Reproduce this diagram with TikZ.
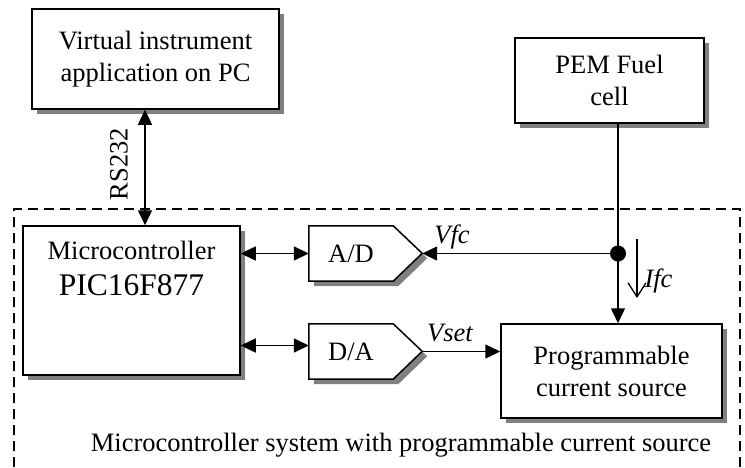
\documentclass[tikz,border=0pt]{standalone}
\usepackage{fontspec}
\setmainfont{Liberation Serif}
\usetikzlibrary{arrows.meta,positioning,shadows,backgrounds}
\newcommand\diagfont{\fontsize{26.5}{32}\selectfont}
\tikzset{
  box/.style={draw, line width=1.5pt, fill=white, align=center, font=\diagfont,
    drop shadow={shadow xshift=5pt, shadow yshift=-5pt, fill=gray, opacity=1}},
  conv/.style={minimum width=84, minimum height=55, inner sep=0pt, font=\diagfont},
  link/.style={line width=1.5pt, -{Triangle[length=15pt,width=14pt]}},
  duplex/.style={line width=1.5pt, {Triangle[length=15pt,width=14pt]}-{Triangle[length=15pt,width=14pt]}},
  lbl/.style={font=\diagfont\itshape}
}

\begin{document}
\begin{tikzpicture}[x=1pt,y=-1pt]
  \useasboundingbox (0,0) rectangle (745,467);

  % outer system frame, open at the bottom
  \draw[line width=1.5pt, dash pattern=on 10pt off 6pt] (14,467) -- (14,209) -- (740,209) -- (740,467);

  \node[box, minimum width=247, minimum height=100] (vi) at (155.5,59) {Virtual instrument\\application on PC};
  \node[box, minimum width=189, minimum height=85] (pem) at (609.5,80.5) {PEM Fuel\\cell};
  \node[box, minimum width=217, minimum height=149] (mcu) at (131.5,300.5) {};
  \node[font=\diagfont, align=center, anchor=north, inner sep=0pt] (mcutxt) at ([yshift=-16pt]mcu.north)
    {Microcontroller\\[4pt]{\fontsize{31.5}{34}\selectfont PIC16F877}};
  \node[box, minimum width=221, minimum height=94] (pcs) at (611.5,371) {Programmable\\current source};

  \node[conv] (ad) at (351,253.5) {A/D};
  \node[conv] (da) at (351,351.5) {D/A};
  \coordinate (adtip) at ([xshift=29pt]ad.east);
  \coordinate (datip) at ([xshift=29pt]da.east);

  % converter outlines with their shadows
  \begin{scope}[on background layer]
    \foreach \n in {ad,da} {
      \fill[gray] ([shift={(5,5)}]\n.north west) -- ([shift={(5,5)}]\n.north east) -- ++(29,27.5)
        -- ([shift={(5,5)}]\n.south east) -- ([shift={(5,5)}]\n.south west) -- cycle;
      \draw[line width=1.5pt, fill=white] (\n.north west) -- (\n.north east) -- ++(29,27.5)
        -- (\n.south east) -- (\n.south west) -- cycle;
    }
  \end{scope}

  % links
  \coordinate (rs) at (145,0);
  \draw[duplex] (vi.south -| rs) -- (mcu.north -| rs);
  \node[font=\diagfont, rotate=90] (rslbl) at (119,164) {RS232};

  \draw[duplex] (mcu.east |- ad.west) -- (ad.west);
  \coordinate (dain) at ([yshift=6pt]da.west);
  \draw[duplex] (dain -| mcu.east) -- (dain);

  \coordinate (tap) at (618,253.5);
  \draw[link] (pem.south -| tap) -- (pcs.north -| tap);
  \fill (tap) circle (8pt);
  \draw[link] (tap) -- (tap -| adtip);
  \node[lbl] (vfc) at (452,237) {Vfc};

  \draw[link] (datip) -- (datip -| pcs.west);
  \node[lbl] (vset) at (450,333) {Vset};

  \coordinate (ifctop) at (637,239);
  \coordinate (ifcbot) at (637,298);
  \draw[line width=1.3pt, -{Straight Barb[length=14pt,width=18pt]}] (ifctop) -- (ifcbot);
  \node[lbl, anchor=west] (ifc) at (641,281) {Ifc};

  \node[font=\diagfont] (caption) at (401,445) {Microcontroller system with programmable current source};
\end{tikzpicture}
\end{document}
